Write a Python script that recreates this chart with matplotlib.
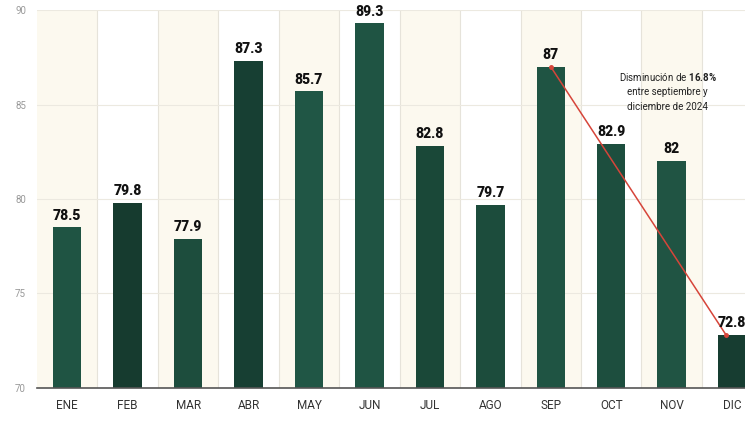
import matplotlib
matplotlib.use("Agg")
import matplotlib.pyplot as plt
import numpy as np

months = ["ENE", "FEB", "MAR", "ABR", "MAY", "JUN", "JUL", "AGO", "SEP", "OCT", "NOV", "DIC"]
values = [78.5, 79.8, 77.9, 87.3, 85.7, 89.3, 82.8, 79.7, 87, 82.9, 82, 72.8]
labels = ["78.5", "79.8", "77.9", "87.3", "85.7", "89.3", "82.8", "79.7", "87", "82.9", "82", "72.8"]
yticks = [70, 75, 80, 85, 90]
drop_from, drop_to = 8, 11

bar_colors = ["#1f5443", "#163b2f", "#1d4d3d", "#173f33", "#205645", "#1f5443",
              "#1a4838", "#1c4c3c", "#1f5443", "#1d4e3e", "#205443", "#173d31"]

plt.rcParams['font.family'] = ['Roboto', 'DejaVu Sans']
plt.rcParams['mathtext.fontset'] = 'custom'
plt.rcParams['mathtext.rm'] = 'Roboto'
plt.rcParams['mathtext.bf'] = 'Roboto:bold'

fig = plt.figure(figsize=(7.45, 4.22), dpi=100)
ax = fig.add_axes([0.0497, 0.081, 0.963, 0.895])

x = np.arange(len(months))

# alternating column backgrounds
for i in x:
    if i % 2 == 0:
        ax.axvspan(i - 0.5, i + 0.5, color="#fcf9ef", zorder=0, lw=0)
    ax.axvline(i + 0.5, color="#e6e3da", lw=0.8, zorder=1)

for yv in yticks[1:]:
    ax.axhline(yv, color="#ece9e0", lw=0.8, zorder=1)

ax.bar(x, [v - 70 for v in values], bottom=70, width=0.47, color=bar_colors, zorder=2)

for i, (v, lab) in enumerate(zip(values, labels)):
    ax.text(i, v + 0.25, lab, ha="center", va="bottom", fontsize=10,
            fontweight="black", color="#111111", zorder=4)

# red line showing the drop
ax.plot([drop_from, drop_to - 0.1], [values[drop_from], values[drop_to]],
        color="#d6453a", lw=1.1, zorder=3, marker="o", markersize=2.5)

ax.text(9.93, 86.8, "Disminución de $\\mathbf{16.8\\%}$\nentre septiembre y\ndiciembre de 2024",
        ha="center", va="top", fontsize=7, color="#222222", linespacing=1.6, zorder=4)

ax.set_xlim(-0.5, 11.37)
ax.set_ylim(70, 90)
ax.set_xticks(x)
ax.set_xticklabels(months, fontsize=8.5, color="#333333")
ax.set_yticks(yticks)
ax.set_yticklabels([str(t) for t in yticks], fontsize=7, color="#999999")
ax.tick_params(axis="both", length=0)
ax.tick_params(axis="x", pad=8)
ax.tick_params(axis="y", pad=8)

for s in ["top", "right", "left"]:
    ax.spines[s].set_visible(False)
ax.spines["bottom"].set_color("#555555")
ax.spines["bottom"].set_linewidth(1.2)

fig.savefig("out.png", dpi=100)
